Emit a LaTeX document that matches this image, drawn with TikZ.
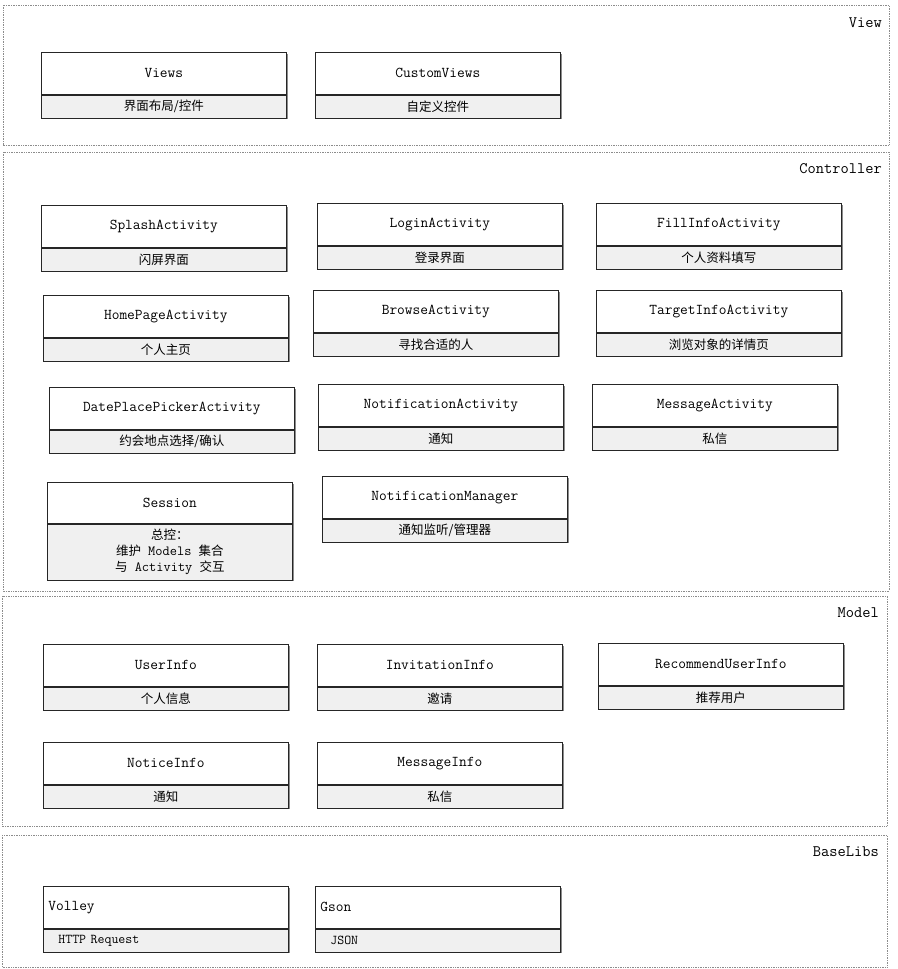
\documentclass[tikz,border=0pt]{standalone}
\usepackage{fontspec}
\newfontfamily\cjk{Noto Sans CJK SC}
\usetikzlibrary{shadows}

\tikzset{
  layer/.style={draw=gray!90, densely dotted, line width=0.7pt},
  layername/.style={anchor=east, inner sep=0pt, font=\ttfamily\fontsize{16}{18}\selectfont},
  boxshadow/.style={drop shadow={shadow xshift=1.2pt, shadow yshift=-1.2pt, fill=gray!90, opacity=1}},
  head/.style={draw=black!85, fill=white, line width=0.7pt, boxshadow,
    minimum width=245pt, minimum height=42pt, inner sep=0pt,
    anchor=north west, font=\ttfamily\fontsize{15}{17}\selectfont},
  body/.style={draw=black!85, fill=black!6, line width=0.7pt, boxshadow,
    minimum width=245pt, minimum height=23pt, inner sep=0pt,
    anchor=north, font=\cjk\fontsize{12.5}{16}\selectfont},
}
\newcommand{\latin}[1]{{\ttfamily\fontsize{14}{16}\selectfont\ #1\ }}

\begin{document}
\begin{tikzpicture}[x=1pt,y=-1pt]
        \useasboundingbox (0,0) rectangle (897,969);

        % draw the layers
        \draw[layer] (3,5) rectangle (889,145);
        \draw[layer] (3,152) rectangle (889,591);
        \draw[layer] (2,596) rectangle (887,826);
        \draw[layer] (2,835) rectangle (887,967);

        \foreach \nm/\x/\y in {View/882/23, Controller/882/169, Model/879/613, BaseLibs/879/852}
                \node[layername] (lbl-\nm) at (\x,\y) {\nm};

        % draw each box with its description
        \foreach \nm/\x/\y/\title/\desc in {
            views/41/52/Views/{界面布局/控件},
            customviews/315/52/CustomViews/自定义控件,
            splash/41/205/SplashActivity/闪屏界面,
            login/317/203/LoginActivity/登录界面,
            fillinfo/596/203/FillInfoActivity/个人资料填写,
            homepage/43/295/HomePageActivity/个人主页,
            browse/313/290/BrowseActivity/寻找合适的人,
            targetinfo/596/290/TargetInfoActivity/浏览对象的详情页,
            dateplace/49/387/DatePlacePickerActivity/{约会地点选择/确认},
            notification/318/384/NotificationActivity/通知,
            message/592/384/MessageActivity/私信,
            notifmanager/322/476/NotificationManager/{通知监听/管理器},
            userinfo/43/644/UserInfo/个人信息,
            invitation/317/644/InvitationInfo/邀请,
            recommend/598/643/RecommendUserInfo/推荐用户,
            notice/43/742/NoticeInfo/通知,
            messageinfo/317/742/MessageInfo/私信} {
                \node[head] (\nm) at (\x,\y) {\title};
                \node[body] (\nm-desc) at (\nm.south) {\desc};
        }

        % the session box has a longer description
        \node[head, minimum height=41pt] (session) at (47,482) {Session};
        \node[body, minimum height=56pt, align=center] (session-desc) at (session.south)
            {总控：\\维护\latin{Models}集合\\与\latin{Activity}交互};

        % base libraries, text to the left
        \foreach \nm/\x/\title/\desc in {volley/43/Volley/HTTP Request, gson/315/Gson/JSON} {
                \node[head, text width=235pt, inner xsep=5pt, align=left] (\nm) at (\x,886) {\title};
                \node[body, text width=215pt, inner xsep=15pt, align=left,
                    font=\ttfamily\fontsize{13.5}{15}\selectfont] (\nm-desc) at (\nm.south) {\desc};
        }
\end{tikzpicture}
\end{document}
